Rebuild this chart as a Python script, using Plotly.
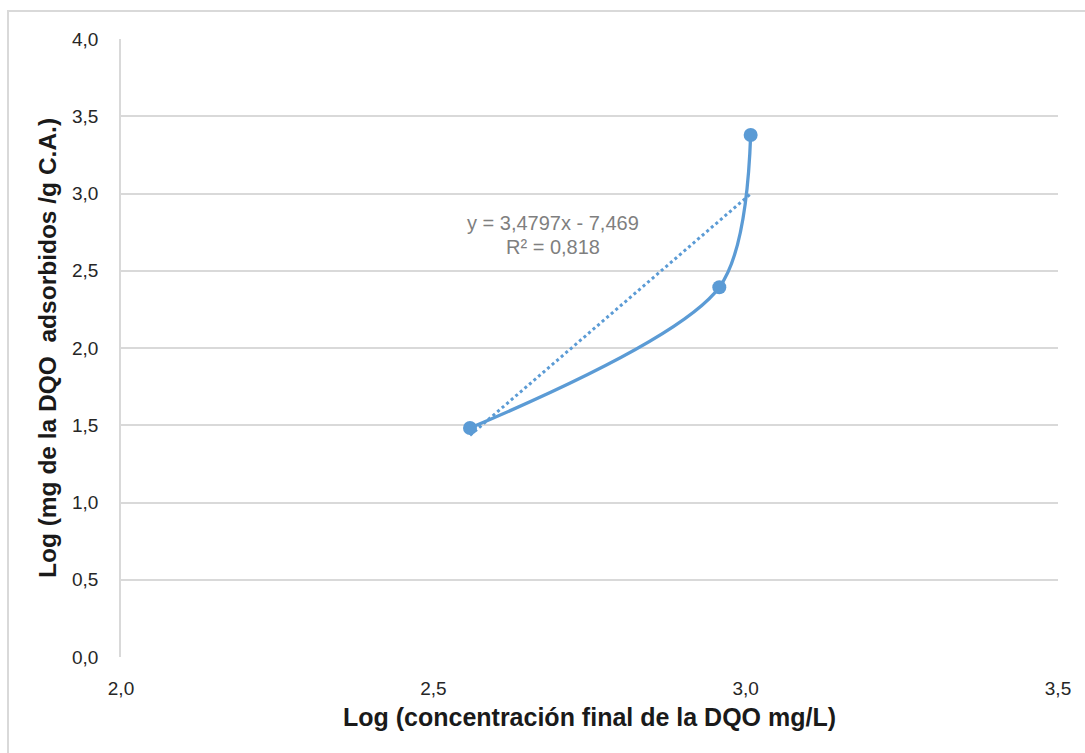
import numpy as np
import plotly.graph_objects as go

# Data
log_ce = [2.5587, 2.9578, 3.008]
log_qe = [1.482, 2.393, 3.379]
trend_slope = 3.4797
trend_intercept = -7.469
trend_r2 = 0.818
x_title = "Log (concentración final de la DQO mg/L)"
y_title = "Log (mg de la DQO\u00a0\u00a0adsorbidos /g C.A.)"

W, H = 1085, 753
L, R, T, B = 121, 27, 39, 96
pw, ph = W - L - R, H - T - B

color = "#5B9BD5"

fig = go.Figure()

tx = [min(log_ce), max(log_ce)]
ty = [trend_slope * v + trend_intercept for v in tx]
fig.add_trace(go.Scatter(x=tx, y=ty, mode="lines",
                         line=dict(color=color, width=3, dash="dot"),
                         hoverinfo="skip", showlegend=False))

fig.add_trace(go.Scatter(x=log_ce, y=log_qe, mode="lines+markers",
                         line=dict(color=color, width=3.3, shape="spline", smoothing=0.85),
                         marker=dict(color=color, size=14),
                         showlegend=False))

fmt = lambda v: f"{v:.4f}".rstrip("0").replace(".", ",")
eq_text = f"y = {fmt(trend_slope)}x - {abs(trend_intercept):.3f}".replace(".", ",")
r2_text = f"R² = {trend_r2:.3f}".replace(".", ",")

ann_x = 2.0 + (553 - L) / pw * 1.5
fig.add_annotation(x=ann_x, y=(H - B - 223) / ph * 4.0,
                   text=eq_text, showarrow=False,
                   font=dict(family="Liberation Sans, Arial", size=20, color="#7f7f7f"))
fig.add_annotation(x=ann_x, y=(H - B - 247) / ph * 4.0,
                   text=r2_text, showarrow=False,
                   font=dict(family="Liberation Sans, Arial", size=20, color="#7f7f7f"))

# Outer chart frame
fig.add_shape(type="rect", xref="paper", yref="paper",
              x0=(8 - L) / pw, x1=(W + 10 - L) / pw,
              y0=(H - B - (H + 10)) / ph, y1=(H - B - 11) / ph,
              line=dict(color="#d9d9d9", width=2), fillcolor="rgba(0,0,0,0)", layer="below")

fig.update_layout(
    width=W, height=H,
    margin=dict(l=L, r=R, t=T, b=B),
    plot_bgcolor="white", paper_bgcolor="white",
    separators=", ",
    font=dict(family="Liberation Sans, Arial", size=19, color="#262626"),
    xaxis=dict(range=[2.0, 3.5], dtick=0.5, tickformat=".1f", showgrid=False,
               zeroline=False, showline=False, ticks="outside", ticklen=14,
               tickcolor="rgba(0,0,0,0)", tickfont=dict(size=19),
               title=dict(text=x_title, font=dict(size=25, color="#1a1a1a", weight="bold"), standoff=10)),
    yaxis=dict(range=[0, 4.0], dtick=0.5, tickformat=".1f", showgrid=True,
               gridcolor="#d9d9d9", gridwidth=1.5, zeroline=False,
               showline=True, linecolor="#d9d9d9", linewidth=1.5, ticks="outside", ticklen=17,
               tickcolor="rgba(0,0,0,0)", tickfont=dict(size=19),
               title=dict(text=y_title, font=dict(size=24.5, color="#1a1a1a", weight="bold"), standoff=8)),
)

fig.write_html("out.html", config={"displayModeBar": False},
               post_script="document.body.style.margin='0';document.body.style.overflow='hidden';")
